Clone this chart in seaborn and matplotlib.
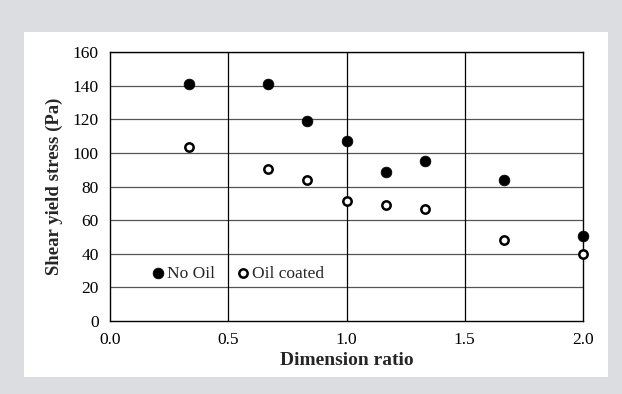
import seaborn as sns
import pandas as pd
import matplotlib.pyplot as plt
from matplotlib.patches import Rectangle

# values
ratio = [0.333, 0.667, 0.833, 1.0, 1.167, 1.333, 1.667, 2.0]
no_oil = [141, 141, 119, 107, 88.5, 95, 84, 50.5]
oil_coated = [103.5, 90.5, 84, 71.5, 69, 66.5, 48, 40]

df = pd.DataFrame({'ratio': ratio, 'No Oil': no_oil, 'Oil coated': oil_coated})

sns.set_theme(style='white')
plt.rcParams['font.family'] = ['Liberation Serif', 'DejaVu Serif']

fig = plt.figure(figsize=(6.22, 3.94), dpi=100, facecolor='#dcdde0')
# white panel behind the chart
fig.patches.append(Rectangle((24 / 622, 1 - 377 / 394), 584 / 622, 345 / 394,
                             transform=fig.transFigure, facecolor='white',
                             edgecolor='none', zorder=-1))
ax = fig.add_axes([110 / 622, 1 - 321 / 394, 473 / 622, 269 / 394])
ax.set_facecolor('white')

sns.scatterplot(data=df, x='ratio', y='No Oil', ax=ax, color='black', s=60,
                edgecolor='black', linewidth=0.5, label='No Oil', zorder=3,
                clip_on=False)
sns.scatterplot(data=df, x='ratio', y='Oil coated', ax=ax, facecolor='white', s=36,
                edgecolor='black', linewidth=1.8, label='Oil coated', zorder=3,
                clip_on=False)

ax.set_xlim(0, 2.0)
ax.set_ylim(0, 160)
ax.set_xticks([0.0, 0.5, 1.0, 1.5, 2.0])
ax.set_xticklabels(['0.0', '0.5', '1.0', '1.5', '2.0'])
ax.set_yticks(range(0, 161, 20))
for v in range(20, 161, 20):
    ax.axhline(v, color='#555555', linewidth=0.9, zorder=1)
for v in [0.5, 1.0, 1.5]:
    ax.axvline(v, color='black', linewidth=0.9, zorder=1)
for s in ax.spines.values():
    s.set_color('black')
    s.set_linewidth(1.0)
ax.tick_params(axis='both', labelsize=12.5, colors='black', length=0, pad=8)

ax.set_xlabel('Dimension ratio', fontsize=14, fontweight='bold', labelpad=3)
ax.set_ylabel('Shear yield stress (Pa)', fontsize=13.5, fontweight='bold', labelpad=7)

ax.legend(loc='center left', bbox_to_anchor=(0.07, 0.175), ncol=2, frameon=False,
          fontsize=12.5, handlelength=0.7, handletextpad=0.15, columnspacing=1.3,
          borderpad=0)

fig.savefig('out.png', dpi=100, facecolor=fig.get_facecolor())
